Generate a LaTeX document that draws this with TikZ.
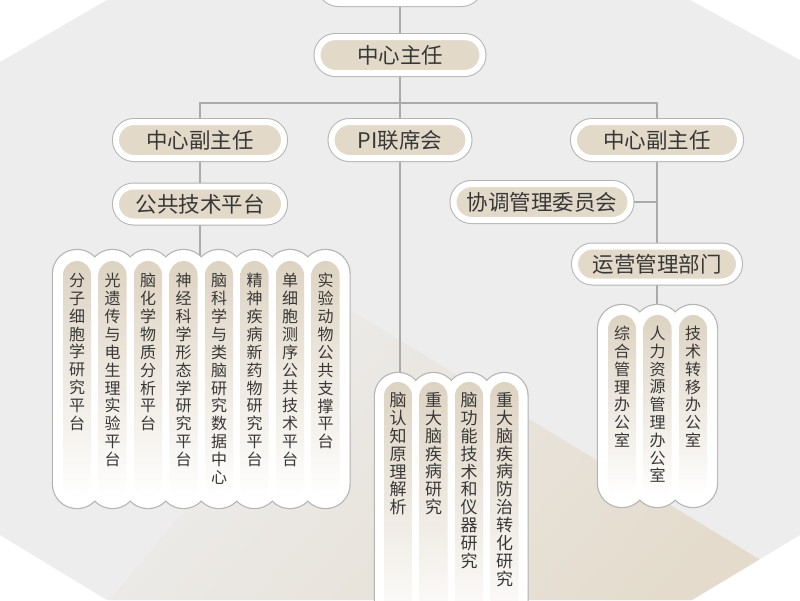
\documentclass[tikz,border=0pt]{standalone}
\usepackage{fontspec}
\setmainfont{Noto Sans CJK SC}
\usetikzlibrary{shapes.misc,positioning,backgrounds}
\XeTeXlinebreaklocale "zh"
\XeTeXlinebreakskip=0pt plus 1pt

\definecolor{bggray}{HTML}{EDEDED}
\definecolor{bgbeige}{HTML}{E4DBCC}
\definecolor{pillbeige}{HTML}{E2D9C9}
\definecolor{rimgray}{HTML}{B4B4B4}
\definecolor{linkgray}{HTML}{AAAAAA}
\definecolor{inkgray}{HTML}{383838}
\definecolor{colbeige}{HTML}{DDD3C2}

\tikzset{
  pill/.style={rounded rectangle, fill=pillbeige, draw=white, line width=6pt,
    preaction={draw=rimgray, line width=8pt},
    text=inkgray, font=\fontsize{21.5}{24}\selectfont,
    minimum height=36pt, inner sep=0pt},
  link/.style={draw=linkgray, line width=1.3pt},
  vtext/.style={anchor=north, align=center, inner sep=0pt, text=inkgray},
}

\begin{document}
\lineskiplimit=-50pt
\begin{tikzpicture}[x=1pt,y=-1pt]
\useasboundingbox (0,0) rectangle (800,600);

% background
\begin{scope}[on background layer]
  \fill[bggray] (107,0) -- (690,0) -- (800,60) -- (800,535) -- (692,600)
    -- (107,600) -- (0,535) -- (0,62) -- cycle;
  \begin{scope}
    \clip (107,0) -- (690,0) -- (800,60) -- (800,535) -- (692,600)
      -- (107,600) -- (0,535) -- (0,62) -- cycle;
    \shade[top color=bggray, bottom color=bgbeige, shading angle=49]
      (350,310) -- (800,584) -- (800,600) -- (110,600) -- cycle;
  \end{scope}
\end{scope}

% top levels
\node[pill, minimum width=159pt] (top) at (400,-15) {};
\node[pill, minimum width=165pt] (dir) at (400,55) {中心主任};
\node[pill, minimum width=168pt] (vdL) at (200,140) {中心副主任};
\node[pill, minimum width=137pt] (pi) at (400,140) {PI联席会};
\node[pill, minimum width=166pt] (vdR) at (657,140) {中心副主任};
\node[pill, minimum width=168pt, minimum height=35pt] (pt) at (200,204) {公共技术平台};
\node[pill, minimum width=177pt] (co) at (542,202) {协调管理委员会};
\node[pill, minimum width=164pt, minimum height=35pt] (ops) at (657,264) {运营管理部门};

% platforms
\foreach \i in {0,...,7}
  \draw[draw=rimgray, line width=2.4pt, rounded corners=24pt] (53+35.5*\i,250) rectangle ++(48,258);
\foreach \i in {0,...,7}
  \fill[white, rounded corners=24pt] (53+35.5*\i,250) rectangle ++(48,258);
\foreach \i in {0,...,7}
  \shade[top color=colbeige, bottom color=white, rounded corners=14pt] (63+35.5*\i,261) rectangle ++(28,237);
\foreach \t [count=\i from 0] in {分子细胞学研究平台,光遗传与电生理实验平台,脑化学物质分析平台,神经科学形态学研究平台,脑科学与类脑研究数据中心,精神疾病新药物研究平台,单细胞测序公共技术平台,实验动物公共支撑平台}
  \node[vtext, text width=18pt, font=\fontsize{16}{17.9}\selectfont] (plat\i) at (77+35.5*\i,273) {\t};

% research
\foreach \i in {0,...,3}
  \draw[draw=rimgray, line width=2.4pt, rounded corners=23pt] (375+35.5*\i,373) rectangle ++(46,270);
\foreach \i in {0,...,3}
  \fill[white, rounded corners=23pt] (375+35.5*\i,373) rectangle ++(46,270);
\foreach \i in {0,...,3}
  \shade[top color=colbeige, bottom color=white, rounded corners=14pt] (384+35.5*\i,382) rectangle ++(28,250);
\foreach \t [count=\i from 0] in {脑认知原理解析,重大脑疾病研究,脑功能技术和仪器研究,重大脑疾病防治转化研究}
  \node[vtext, text width=20pt, font=\fontsize{17}{17.9}\selectfont] (res\i) at (398+35.5*\i,392) {\t};

% offices
\foreach \i in {0,...,2}
  \draw[draw=rimgray, line width=2.4pt, rounded corners=24pt] (598+35.5*\i,305) rectangle ++(48,202);
\foreach \i in {0,...,2}
  \fill[white, rounded corners=24pt] (598+35.5*\i,305) rectangle ++(48,202);
\foreach \i in {0,...,2}
  \shade[top color=colbeige, bottom color=white, rounded corners=14pt] (608+35.5*\i,315) rectangle ++(28,182);
\foreach \t [count=\i from 0] in {综合管理办公室,人力资源管理办公室,技术转移办公室}
  \node[vtext, text width=18pt, font=\fontsize{16}{17.8}\selectfont] (off\i) at (622+35.5*\i,326) {\t};

% connectors
\coordinate (bus) at (400,103);
\coordinate (platTop) at (200,262);
\coordinate (resTop) at (400,385);
\coordinate (offTop) at (657,316);
\begin{scope}[on background layer]
  \draw[link] (top.south) -- (dir.north);
  \draw[link] (dir.south) -- (pi.north);
  \draw[link] (vdL.north) |- (bus) -| (vdR.north);
  \draw[link] (vdL.south) -- (pt.north);
  \draw[link] (pt.south) -- (platTop);
  \draw[link] (pi.south) -- (resTop);
  \draw[link] (vdR.south) -- (ops.north);
  \draw[link] (co.east) -- (co.east -| vdR.south);
  \draw[link] (ops.south) -- (offTop);
\end{scope}
\end{tikzpicture}
\end{document}
